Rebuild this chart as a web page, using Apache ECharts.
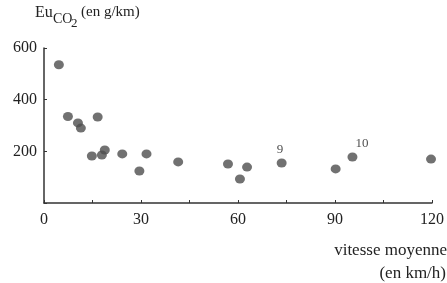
<!DOCTYPE html>
<html>
<head>
<meta charset="utf-8">
<script src="https://cdn.jsdelivr.net/npm/echarts@6/dist/echarts.min.js"></script>
<style>
  html, body { margin: 0; padding: 0; background: #fff; }
  #chart { width: 447px; height: 283px; }
</style>
</head>
<body>
<div id="chart"></div>
<script>
// vitesse moyenne (km/h) and emissions (g/km)
const speeds = [4.6, 7.4, 10.5, 11.4, 16.6, 14.8, 17.9, 18.8, 24.2, 29.5, 31.7, 41.5, 56.9, 60.6, 62.8, 73.5, 90.2, 95.4, 119.7];
const emissions = [535, 335, 310, 290, 333, 182, 186, 205, 190, 124, 190, 159, 151, 93, 139, 155, 132, 178, 170];
const pointTags = ['', '', '', '', '', '', '', '', '', '', '', '', '', '', '', '9', '', '10', ''];
const yTicks = [200, 400, 600];
const xTicks = [0, 30, 60, 90, 120];

const serif = 'Liberation Serif';
const ink = '#222';

const chart = echarts.init(document.getElementById('chart'));

const points = speeds.map((s, i) => {
  const p = { value: [s, emissions[i]] };
  if (pointTags[i]) {
    p.label = {
      show: true,
      formatter: pointTags[i],
      position: i === 17 ? [8, -15] : [0, -15],
      fontFamily: serif,
      fontSize: 13,
      color: ink
    };
  }
  return p;
});

chart.setOption({
  animation: false,
  grid: { left: 44, right: 11, top: 48, bottom: 80 },
  xAxis: {
    type: 'value',
    min: 0,
    max: 120,
    interval: 15,
    splitLine: { show: false },
    axisLine: { lineStyle: { color: '#333', width: 1.5 } },
    axisTick: { inside: true, length: 3, lineStyle: { color: '#333' } },
    axisLabel: {
      margin: 9,
      fontFamily: serif,
      fontSize: 16,
      color: ink,
      formatter: v => xTicks.includes(v) ? String(v) : ''
    }
  },
  yAxis: {
    type: 'value',
    min: 0,
    max: 600,
    interval: 200,
    splitLine: { show: false },
    axisLine: { show: true, lineStyle: { color: '#333', width: 1.5 } },
    axisTick: { show: true, inside: true, length: 3, lineStyle: { color: '#333' } },
    axisLabel: {
      margin: 7,
      fontFamily: serif,
      fontSize: 16,
      color: ink,
      formatter: v => yTicks.includes(v) ? String(v) : ''
    }
  },
  series: [{
    type: 'scatter',
    data: points,
    symbol: 'circle',
    symbolSize: [10, 9],
    itemStyle: { color: '#4d4d4d' }
  }],
  graphic: [
    { type: 'text', left: 35, top: 5, style: { text: 'Eu', font: '16px "Liberation Serif"', fill: ink } },
    { type: 'text', left: 53, top: 12, style: { text: 'CO', font: '14px "Liberation Serif"', fill: ink } },
    { type: 'text', left: 71, top: 17, style: { text: '2', font: '13px "Liberation Serif"', fill: ink } },
    { type: 'text', left: 81, top: 5, style: { text: '(en g/km)', font: '15px "Liberation Serif"', fill: ink } },
    { type: 'text', right: 0, top: 242, style: { text: 'vitesse moyenne', font: '17px "Liberation Serif"', fill: ink } },
    { type: 'text', right: 1, top: 265, style: { text: '(en km/h)', font: '17px "Liberation Serif"', fill: ink } }
  ]
});
</script>
</body>
</html>
